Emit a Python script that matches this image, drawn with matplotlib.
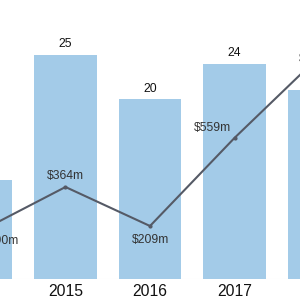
import matplotlib
matplotlib.use('Agg')
import matplotlib.pyplot as plt

years = [2014, 2015, 2016, 2017, 2018]
counts = [11, 25, 20, 24, 21]
amounts = [190, 364, 209, 559, 882]
amount_labels = ['$190m', '$364m', '$209m', '$559m', '$882m']

# label offsets in points (dx, dy) for the line labels
offsets = [(14, -7), (0, 8), (0, -10), (-16, 7), (-1, -2)]

plt.rcParams['font.family'] = ['Liberation Sans', 'DejaVu Sans']

fig = plt.figure(figsize=(3, 3), dpi=100)
ax = fig.add_axes([0, 0.0713, 1, 0.9287])

ax.bar(years, counts, width=0.745, color='#a3cbe8', zorder=1)
for x, c in zip(years, counts):
    ax.annotate(str(c), (x, c), xytext=(0, 3), textcoords='offset points',
                ha='center', va='bottom', fontsize=8.7, color='#111111',
                annotation_clip=False)

ax.set_xlim(2014.225, 2017.775)
ax.set_ylim(0, 31.1)
ax.set_xticks(years[1:4])
ax.set_xticklabels([str(y) for y in years[1:4]], fontsize=11.3, color='#111111')
ax.tick_params(axis='x', length=0, pad=4)
ax.set_yticks([])
for s in ax.spines.values():
    s.set_visible(False)
ax.axhline(0, color='#eeeeee', lw=0.8, zorder=0)

ax2 = ax.twinx()
ax2.plot(years, amounts, color='#555a66', lw=1.5, marker='o', ms=2, zorder=3)
for x, a, lab, off in zip(years, amounts, amount_labels, offsets):
    ax2.annotate(lab, (x, a), xytext=off, textcoords='offset points',
                 ha='center', va='center', fontsize=8.7, color='#333333',
                 annotation_clip=False)
ax2.set_ylim(0, 1107)
ax2.set_yticks([])
for s in ax2.spines.values():
    s.set_visible(False)

fig.savefig('out.png', dpi=100)
